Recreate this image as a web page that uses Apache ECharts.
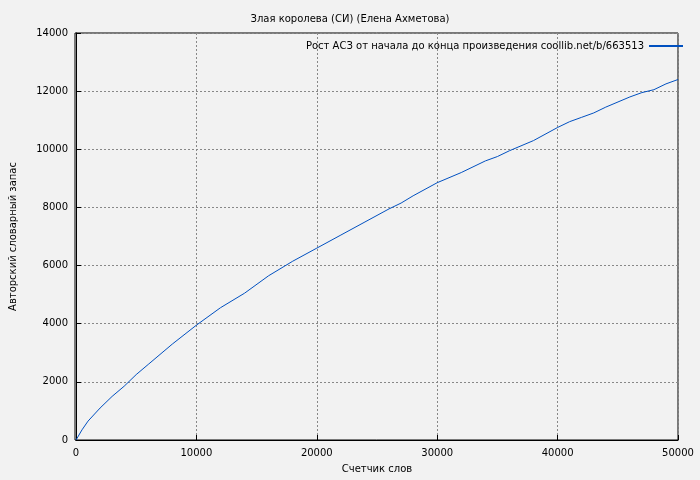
<!DOCTYPE html>
<html><head><meta charset="utf-8">
<script src="https://cdn.jsdelivr.net/npm/echarts@6/dist/echarts.min.js"></script>
<style>html,body{margin:0;background:#f2f2f2}#c{width:700px;height:480px}</style>
</head><body><div id="c"></div>
<script>
const xs = [0,500,1000,2000,3000,4000,5000,6000,8000,10000,12000,14000,16000,18000,20000,22000,24000,26000,27000,28000,30000,32000,34000,35000,36000,38000,40000,41000,42000,43000,44000,46000,47000,48000,49000,50000];
const ys = [0,350,650,1100,1500,1850,2250,2600,3300,3950,4550,5050,5650,6150,6600,7050,7500,7950,8150,8400,8850,9200,9600,9750,9950,10300,10750,10950,11100,11250,11450,11800,11950,12050,12250,12400];
const title = 'Злая королева (СИ) (Елена Ахметова)';
const seriesName = 'Рост АСЗ от начала до конца произведения coollib.net/b/663513';
const font = 'DejaVu Sans';
const chart = echarts.init(document.getElementById('c'));
chart.setOption({
  backgroundColor:'#f2f2f2',
  animation:false,
  textStyle:{fontFamily:font},
  title:{text:title,left:'center',top:9,textStyle:{fontSize:10,fontWeight:'normal',color:'#000',fontFamily:font}},
  legend:{top:36,right:12,align:'right',itemWidth:34,itemHeight:2,icon:'rect',itemGap:5,
    textStyle:{fontSize:10,color:'#000',fontFamily:font},data:[seriesName]},
  grid:{left:75,right:22,top:33,bottom:40},
  xAxis:{type:'value',min:0,max:50000,interval:10000,name:'Счетчик слов',nameLocation:'middle',nameGap:24,
    nameTextStyle:{fontSize:10,color:'#000'},
    axisLine:{lineStyle:{color:'#000'}},axisTick:{inside:true,lineStyle:{color:'#000'}},
    axisLabel:{fontSize:10,color:'#000',formatter:v=>String(v)},
    splitLine:{lineStyle:{type:[2,2],color:'#888'}}},
  yAxis:{type:'value',min:0,max:14000,interval:2000,name:'Авторский словарный запас',nameLocation:'middle',nameGap:58,
    nameTextStyle:{fontSize:10,color:'#000'},
    axisLine:{show:true,lineStyle:{color:'#000'}},axisTick:{show:true,inside:true,lineStyle:{color:'#000'}},
    axisLabel:{fontSize:10,color:'#000',formatter:v=>String(v)},
    splitLine:{lineStyle:{type:[2,2],color:'#888'}}},
  series:[{name:seriesName,type:'line',showSymbol:false,data:xs.map((x,i)=>[x,ys[i]]),
    lineStyle:{color:'#0050c0',width:1},itemStyle:{color:'#0050c0'}}],
  graphic:[{type:'rect',shape:{x:75,y:33,width:603,height:407},style:{fill:null,stroke:'#000',lineWidth:1},silent:true}]
});
</script></body></html>
